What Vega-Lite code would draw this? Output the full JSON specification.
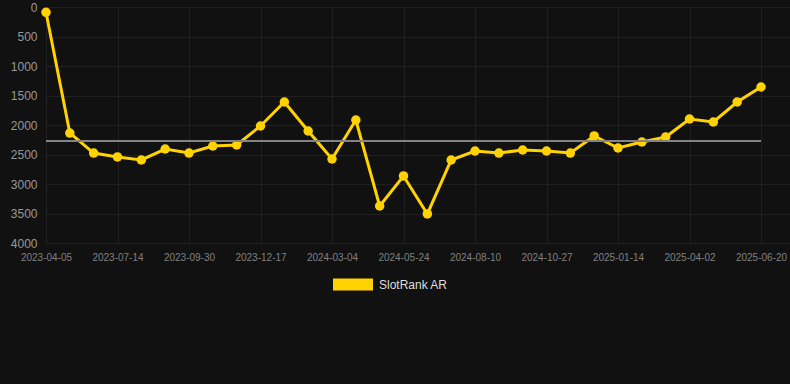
{
  "$schema": "https://vega.github.io/schema/vega-lite/v6.json",
  "autosize": {"type": "none"},
  "padding": {"left": 46, "top": 7, "right": 0, "bottom": 141},
  "width": 744,
  "height": 236,
  "background": "#111111",
  "config": {
    "view": {"stroke": null},
    "font": "Liberation Sans"
  },
  "datasets": {
    "ranks": [
      {"date": "2023-04-05", "rank": 90, "series": "SlotRank AR"},
      {"date": "2023-05-08", "rank": 2136, "series": "SlotRank AR"},
      {"date": "2023-06-11", "rank": 2475, "series": "SlotRank AR"},
      {"date": "2023-07-14", "rank": 2542, "series": "SlotRank AR"},
      {"date": "2023-08-09", "rank": 2593, "series": "SlotRank AR"},
      {"date": "2023-09-04", "rank": 2407, "series": "SlotRank AR"},
      {"date": "2023-09-30", "rank": 2475, "series": "SlotRank AR"},
      {"date": "2023-10-26", "rank": 2356, "series": "SlotRank AR"},
      {"date": "2023-11-21", "rank": 2339, "series": "SlotRank AR"},
      {"date": "2023-12-17", "rank": 2017, "series": "SlotRank AR"},
      {"date": "2024-01-12", "rank": 1610, "series": "SlotRank AR"},
      {"date": "2024-02-07", "rank": 2102, "series": "SlotRank AR"},
      {"date": "2024-03-04", "rank": 2576, "series": "SlotRank AR"},
      {"date": "2024-03-31", "rank": 1915, "series": "SlotRank AR"},
      {"date": "2024-04-27", "rank": 3373, "series": "SlotRank AR"},
      {"date": "2024-05-24", "rank": 2864, "series": "SlotRank AR"},
      {"date": "2024-06-19", "rank": 3508, "series": "SlotRank AR"},
      {"date": "2024-07-15", "rank": 2593, "series": "SlotRank AR"},
      {"date": "2024-08-10", "rank": 2441, "series": "SlotRank AR"},
      {"date": "2024-09-05", "rank": 2475, "series": "SlotRank AR"},
      {"date": "2024-10-01", "rank": 2424, "series": "SlotRank AR"},
      {"date": "2024-10-27", "rank": 2441, "series": "SlotRank AR"},
      {"date": "2024-11-22", "rank": 2475, "series": "SlotRank AR"},
      {"date": "2024-12-18", "rank": 2186, "series": "SlotRank AR"},
      {"date": "2025-01-14", "rank": 2390, "series": "SlotRank AR"},
      {"date": "2025-02-09", "rank": 2288, "series": "SlotRank AR"},
      {"date": "2025-03-07", "rank": 2203, "series": "SlotRank AR"},
      {"date": "2025-04-02", "rank": 1898, "series": "SlotRank AR"},
      {"date": "2025-04-28", "rank": 1949, "series": "SlotRank AR"},
      {"date": "2025-05-24", "rank": 1610, "series": "SlotRank AR"},
      {"date": "2025-06-20", "rank": 1356, "series": "SlotRank AR"}
    ],
    "average": [
      {"start": "2023-04-05", "end": "2025-06-20", "avg": 2270}
    ]
  },
  "layer": [
    {
      "data": {"name": "ranks"},
      "encoding": {
        "x": {
          "field": "date", "type": "ordinal", "sort": null,
          "scale": {"type": "point", "padding": 0.608, "align": 0},
          "axis": {
            "title": null,
            "values": ["2023-04-05", "2023-07-14", "2023-09-30", "2023-12-17", "2024-03-04", "2024-05-24", "2024-08-10", "2024-10-27", "2025-01-14", "2025-04-02", "2025-06-20"],
            "labelAngle": 0,
            "labelFontSize": 10,
            "labelColor": "#808080",
            "labelPadding": 9,
            "labelOverlap": false,
            "domain": false,
            "ticks": false,
            "grid": true,
            "gridColor": "#202020",
            "gridWidth": 1
          }
        },
        "y": {
          "field": "rank", "type": "quantitative",
          "scale": {"domain": [0, 4000], "reverse": true, "nice": false},
          "axis": {
            "title": null,
            "values": [0, 500, 1000, 1500, 2000, 2500, 3000, 3500, 4000],
            "format": "d",
            "labelFontSize": 12,
            "labelColor": "#999999",
            "labelPadding": 9,
            "labelOverlap": false,
            "domain": false,
            "ticks": false,
            "grid": true,
            "gridColor": "#202020",
            "gridWidth": 1
          }
        }
      },
      "layer": [
        {
          "mark": {"type": "line", "color": "#FFD200", "strokeWidth": 3}
        },
        {
          "mark": {"type": "point", "filled": true, "shape": "circle", "size": 90, "opacity": 1},
          "encoding": {
            "color": {
              "field": "series", "type": "nominal",
              "scale": {"range": ["#FFD200"]},
              "legend": {
                "title": null,
                "orient": "none",
                "legendX": 287,
                "legendY": 257.5,
                "symbolType": "M-1,-0.3H1V0.3H-1Z",
                "symbolSize": 1600,
                "symbolStrokeWidth": 0,
                "symbolOpacity": 1,
                "labelFontSize": 12,
                "labelColor": "#dddddd",
                "labelOffset": 6
              }
            }
          }
        }
      ]
    },
    {
      "data": {"name": "average"},
      "mark": {"type": "rule", "color": "#848484", "strokeWidth": 2},
      "encoding": {
        "x": {
          "field": "start", "type": "ordinal",
          "axis": {
            "title": null,
            "values": ["2023-04-05", "2023-07-14", "2023-09-30", "2023-12-17", "2024-03-04", "2024-05-24", "2024-08-10", "2024-10-27", "2025-01-14", "2025-04-02", "2025-06-20"],
            "labelAngle": 0,
            "labelFontSize": 10,
            "labelColor": "#808080",
            "labelPadding": 9,
            "labelOverlap": false,
            "domain": false,
            "ticks": false,
            "grid": true,
            "gridColor": "#202020",
            "gridWidth": 1
          }
        },
        "x2": {"field": "end"},
        "y": {
          "field": "avg", "type": "quantitative",
          "axis": {
            "title": null,
            "values": [0, 500, 1000, 1500, 2000, 2500, 3000, 3500, 4000],
            "format": "d",
            "labelFontSize": 12,
            "labelColor": "#999999",
            "labelPadding": 9,
            "labelOverlap": false,
            "domain": false,
            "ticks": false,
            "grid": true,
            "gridColor": "#202020",
            "gridWidth": 1
          }
        }
      }
    }
  ]
}
